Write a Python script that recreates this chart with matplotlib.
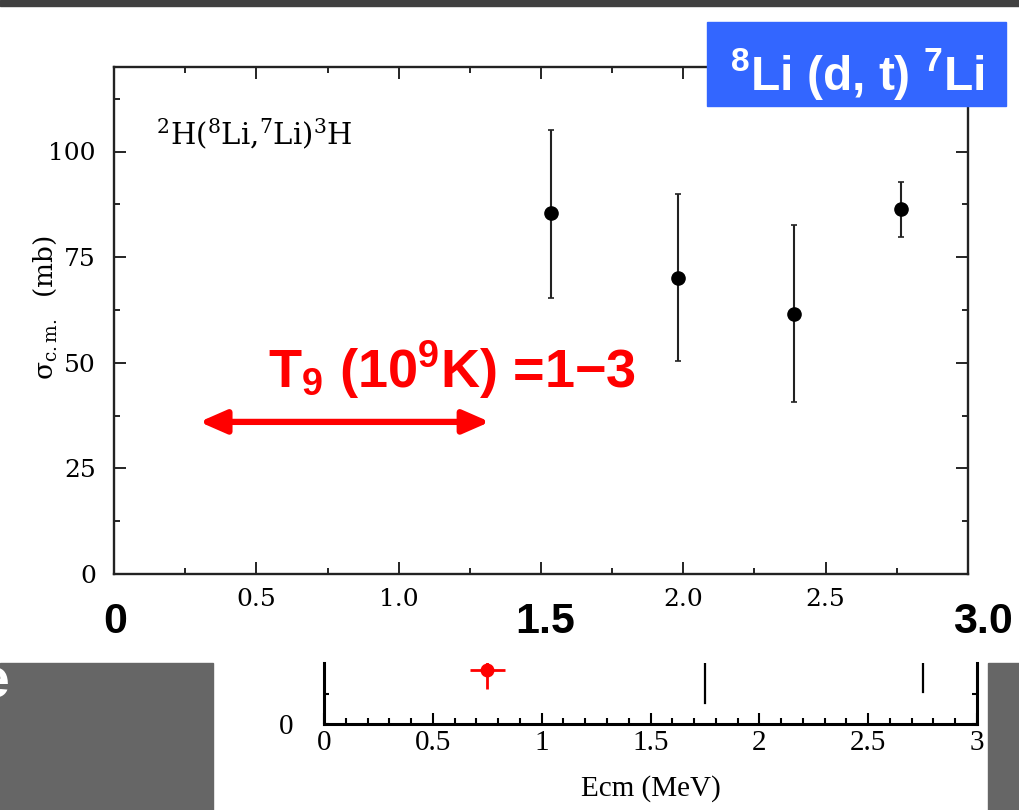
import matplotlib
matplotlib.use('Agg')
import matplotlib.pyplot as plt
from matplotlib.patches import Rectangle
from matplotlib.ticker import MultipleLocator

# 2H(8Li,7Li)3H centre-of-mass cross section (mb) vs E_cm (MeV)
energy = [1.535, 1.98, 2.39, 2.765]
sigma = [85.5, 70.0, 61.5, 86.5]
sigma_hi = [105.2, 89.9, 82.5, 92.8]
sigma_lo = [65.3, 50.3, 40.7, 79.8]

xticks_major = [0, 0.5, 1.0, 1.5, 2.0, 2.5, 3.0]
xtick_labels = ['', '0.5', '1.0', '', '2.0', '2.5', '']
yticks_major = [0, 25, 50, 75, 100]

# energy window for T9 = 1-3
arrow_x = [0.30, 1.32]
arrow_y = 36

big_labels = ['0', '1.5', '3.0']
big_label_px = [115, 545, 983]

# lower strip
low_x = [0.75]
low_y = [0.885]
low_xerr = [0.08]
low_yerr = [0.31]
bar_x = [1.75, 2.75]
bar_bottom = [0.34, 0.52]
low_ticks = [0, 0.5, 1, 1.5, 2, 2.5, 3]
low_ticklabels = ['0', '0.5', '1', '1.5', '2', '2.5', '3']

W, H = 1019, 810


def fx(px):
    return px / W


def fy(py):
    return 1 - py / H


plt.rcParams['font.family'] = 'DejaVu Serif'
plt.rcParams['mathtext.fontset'] = 'custom'
plt.rcParams['mathtext.rm'] = 'DejaVu Serif'
plt.rcParams['mathtext.it'] = 'DejaVu Serif:italic'
plt.rcParams['mathtext.bf'] = 'Liberation Sans:bold'

fig = plt.figure(figsize=(W / 100, H / 100), dpi=100)
fig.patch.set_facecolor('white')

# main panel
ax = fig.add_axes([fx(114), fy(574), (968 - 114) / W, (574 - 67) / H])
yerr = [[s - lo for s, lo in zip(sigma, sigma_lo)],
        [hi - s for s, hi in zip(sigma, sigma_hi)]]
ax.errorbar(energy, sigma, yerr=yerr, fmt='o', color='black', ms=9.5,
            elinewidth=1.5, capsize=2.5, capthick=1.2, ecolor='#222222')
ax.set_xlim(0, 3.0)
ax.set_ylim(0, 120)
ax.set_xticks(xticks_major)
ax.set_xticklabels(xtick_labels)
ax.set_yticks(yticks_major)
ax.xaxis.set_minor_locator(MultipleLocator(0.25))
ax.yaxis.set_minor_locator(MultipleLocator(12.5))
ax.tick_params(which='both', direction='in', top=True, right=True,
               width=1.2, labelsize=18)
ax.tick_params(which='major', length=8.5)
ax.tick_params(which='minor', length=4.5)
ax.tick_params(axis='x', pad=10)
ax.tick_params(axis='y', pad=13)
for sp in ax.spines.values():
    sp.set_linewidth(1.7)
    sp.set_color('#222222')

ax.set_ylabel(r'$\mathrm{\sigma}_{\mathrm{c.m.}}$  (mb)', fontsize=19)
ax.yaxis.set_label_coords(-0.064, 0.525)

ax.text(0.148, 101.7, r'$^{2}$H($^{8}$Li,$^{7}$Li)$^{3}$H', fontsize=21)

ax.text(0.54, 44.1, r'$\mathbf{T_9}$ (10$^{\mathbf{9}}$K) =1−3', color='red',
        fontsize=39, fontfamily='Liberation Sans', fontweight='bold',
        va='baseline')
ax.annotate('', xy=(arrow_x[0], arrow_y), xytext=(arrow_x[1], arrow_y),
            arrowprops=dict(arrowstyle='<|-|>,head_length=1.6,head_width=0.7',
                            lw=4.5, color='red', shrinkA=0, shrinkB=0))

# big energy markers under the axis
for lab, px in zip(big_labels, big_label_px):
    fig.text(fx(px), fy(622), lab, ha='center', va='center', fontsize=31,
             fontfamily='Liberation Sans', fontweight='bold')

# lower strip
ax2 = fig.add_axes([fx(324), fy(724), (977 - 324) / W, (724 - 663) / H])
ax2.errorbar(low_x, low_y, xerr=low_xerr, yerr=low_yerr, fmt='o', color='red',
             ms=9, elinewidth=2, capsize=0)
for bx, bb in zip(bar_x, bar_bottom):
    ax2.plot([bx, bx], [bb, 1.5], color='black', lw=1.6)
ax2.set_xlim(0, 3)
ax2.set_ylim(0, 1)
ax2.set_xticks(low_ticks)
ax2.set_xticklabels(low_ticklabels)
ax2.xaxis.set_minor_locator(MultipleLocator(0.1))
ax2.set_yticks([0, 0.5])
ax2.set_yticklabels(['0', ''])
ax2.tick_params(which='both', direction='in', right=True, width=1.5,
                labelsize=21, labelfontfamily='Liberation Serif')
ax2.tick_params(axis='x', which='major', length=8, pad=4)
ax2.tick_params(axis='x', which='minor', length=4)
ax2.tick_params(axis='y', length=3.5, pad=22)
ax2.spines['top'].set_visible(False)
for side in ['left', 'right', 'bottom']:
    ax2.spines[side].set_linewidth(2.2)
ax2.set_xlabel('Ecm (MeV)', fontsize=21, fontfamily='Liberation Serif',
               labelpad=14)

# framing blocks
fig.patches.append(Rectangle((0, fy(6)), 1, 6 / H, transform=fig.transFigure,
                             color='#404040', zorder=5))
fig.patches.append(Rectangle((0, 0), fx(213), 147 / H,
                             transform=fig.transFigure, color='#666666',
                             zorder=5))
fig.patches.append(Rectangle((fx(988), 0), 31 / W, 147 / H,
                             transform=fig.transFigure, color='#666666',
                             zorder=5))
fig.text(fx(10), fy(698), 'e', ha='right', va='baseline', color='white',
         fontsize=40, fontfamily='Liberation Sans', fontweight='bold', zorder=6)

fig.patches.append(Rectangle((fx(707), fy(106)), 299 / W, 84 / H,
                             transform=fig.transFigure, color='#3366FF',
                             zorder=5))
fig.text(fx(857), fy(90), r'$\mathbf{^{8}Li}$ (d, t) $\mathbf{^{7}Li}$',
         ha='center', va='baseline', color='white', fontsize=34.5,
         fontfamily='Liberation Sans', fontweight='bold', zorder=6)

fig.savefig('out.png', dpi=100)
